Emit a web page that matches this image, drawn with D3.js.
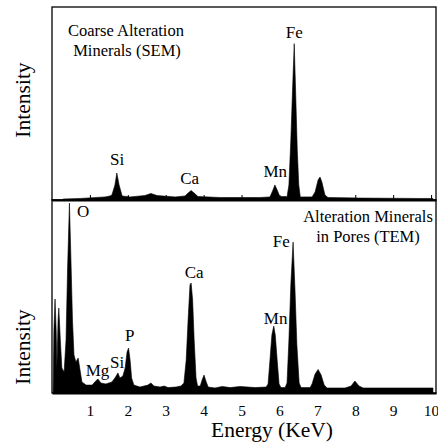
<!DOCTYPE html>
<html>

<head>
    <script src="https://d3js.org/d3.v7.min.js"></script>
    <meta charset="utf-8">
    <style>
        body { margin: 0; background: #fff; }
    </style>
</head>

<body>
    <div id="my_dataviz"></div>
    <script>
        // spectrum outlines (energy in keV, relative intensity 0-100)
        var semEnergy = [0.29, 0.74, 1.40, 1.53, 1.58, 1.66, 1.71, 1.77, 1.85, 2.06, 2.45, 2.61, 2.77, 3.25,
            3.51, 3.59, 3.67, 3.75, 3.85, 4.43, 5.49, 5.75, 5.83, 5.88, 5.94, 6.01, 6.17,
            6.20, 6.25, 6.30, 6.34, 6.39, 6.43, 6.47, 6.51, 6.55, 6.86,
            6.94, 7.02, 7.07, 7.12, 7.20, 7.28, 8.13, 9.71, 10.05];
        var semIntensity = [0.5, 0.8, 1.6, 2.1, 2.6, 7.8, 14, 7.8, 2.1, 1.6, 2.3, 3.4, 2.3, 1.6,
            2.1, 3.6, 4.9, 3.6, 1.8, 1.3, 1.3, 1.6, 5.2, 7.8, 5.2, 1.8, 1.8,
            1.6, 7.8, 31, 54, 81, 54, 26, 7.8, 1.6, 1.6,
            4.1, 10.4, 11.9, 9.3, 2.6, 1.3, 1.0, 0.8, 0.8];

        var temEnergy = [0.03, 0.05, 0.08, 0.11, 0.13, 0.16, 0.18, 0.22, 0.26, 0.32, 0.37, 0.41, 0.46,
            0.50, 0.54, 0.58, 0.63, 0.69, 0.74, 0.79, 0.90, 1.06, 1.13, 1.21, 1.29, 1.42, 1.58,
            1.66, 1.74, 1.79, 1.87, 1.93, 1.98, 2.02, 2.06, 2.10, 2.16, 2.32, 2.53, 2.61, 2.69,
            2.85, 2.96, 3.06, 3.27, 3.40, 3.48, 3.54, 3.59, 3.64, 3.67, 3.71, 3.75, 3.80, 3.84,
            3.91, 3.96, 4.01, 4.06, 4.12, 4.30, 4.49, 4.70, 4.96, 5.36, 5.65,
            5.70, 5.75, 5.80, 5.85, 5.89, 5.94, 5.99, 6.04, 6.15,
            6.20, 6.25, 6.30, 6.36, 6.41, 6.46, 6.52, 6.57, 6.81,
            6.86, 6.94, 7.02, 7.10, 7.18, 7.26, 7.73, 7.89, 7.99, 8.10, 8.21, 9.18, 10.05];
        var temIntensity = [0.5, 32.6, 48.7, 32.6, 13, 37.8, 44, 27.5, 13, 10.9, 27.5, 63.7, 98.4,
            68.9, 37.8, 19.7, 16.1, 18.1, 11.9, 5.7, 4.1, 4.1, 5.7, 7.3, 5.2, 4.7, 5.7,
            7.8, 10.4, 7.8, 8.8, 13, 21.2, 23.3, 17.1, 7.8, 4.1, 3.1, 4.1, 5.2, 3.6,
            3.1, 3.6, 2.8, 3.1, 3.6, 5.2, 17.1, 37.8, 56, 57, 48.2, 27.5, 7.8, 3.6,
            3.6, 6.7, 9.3, 6.2, 3.1, 2.6, 3.4, 2.8, 3.4, 2.8, 3.1,
            4.7, 17.1, 30, 34.7, 30, 17.1, 4.7, 2.8, 2.8,
            5.2, 27.5, 56, 78.2, 53.4, 24.9, 5.2, 2.8, 2.8,
            4.7, 9.8, 12.2, 9.3, 4.1, 2.6, 2.6, 3.6, 6.2, 3.6, 2.6, 2.6, 2.6];

        var tickValues = [1, 2, 3, 4, 5, 6, 7, 8, 9, 10];

        // peak labels: element, keV (centre), intensity at baseline of text
        var semLabels = [["Si", 1.72, 18], ["Ca", 3.63, 8.3], ["Mn", 5.89, 12], ["Fe", 6.39, 84]];
        var temLabels = [["O", 0.82, 91], ["Mg", 1.2, 8.8], ["Si", 1.72, 12.9], ["P", 2.05, 27],
            ["Ca", 3.75, 59.5], ["Mn", 5.9, 36], ["Fe", 6.05, 75.5]];

        var serif = "'Liberation Serif', 'Times New Roman', 'DejaVu Serif', serif";
        var width = 438;
        var height = 445;
        var left = 52, right = 436;

        var svg = d3.select("#my_dataviz")
            .append("svg")
            .attr("width", width)
            .attr("height", height)
            .style("font-family", serif);

        var x = d3.scaleLinear().domain([0, 10.13]).range([left, right]);

        function addText(tx, ty, size, str) {
            return svg.append("text")
                .attr("x", tx).attr("y", ty)
                .attr("text-anchor", "middle")
                .attr("font-family", serif)
                .style("font-family", serif)
                .style("font-size", size + "px")
                .attr("fill", "#000")
                .text(str);
        }

        function drawPanel(top, bottom, energy, intensity, labels) {
            var y = d3.scaleLinear().domain([0, 100]).range([bottom, top]);
            var pts = energy.map((e, i) => [e, intensity[i]]);

            var area = d3.area()
                .x(d => x(d[0]))
                .y0(y(0))
                .y1(d => y(d[1]));

            svg.append("path")
                .datum(pts)
                .attr("d", area)
                .attr("fill", "#000")
                .attr("stroke", "#000")
                .attr("stroke-width", 0.6);

            // frame
            svg.append("rect")
                .attr("x", left).attr("y", top)
                .attr("width", right - left).attr("height", bottom - top)
                .attr("fill", "none")
                .attr("stroke", "#000")
                .attr("stroke-width", 1.3);

            labels.forEach(function (d) {
                addText(x(d[1]), y(d[2]), 17, d[0]);
            });

            return y;
        }

        var yTop = drawPanel(7, 200, semEnergy, semIntensity, semLabels);
        var yBot = drawPanel(200, 393, temEnergy, temIntensity, temLabels);

        // inward ticks on both panels
        svg.append("g")
            .attr("transform", "translate(0,200)")
            .call(d3.axisBottom(x).tickValues(tickValues).tickSizeInner(-5).tickSizeOuter(0).tickFormat(""))
            .call(g => g.select(".domain").attr("stroke-width", 2));

        var xAxis = svg.append("g")
            .attr("transform", "translate(0,393)")
            .call(d3.axisBottom(x).tickValues(tickValues).tickSizeInner(-5).tickSizeOuter(0).tickPadding(12))
            .attr("font-family", serif);
        xAxis.select(".domain").attr("stroke-width", 2);
        xAxis.selectAll("text")
            .style("font-family", serif)
            .style("font-size", "15.5px");

        // panel captions
        addText(126, 36, 16.5, "Coarse Alteration");
        addText(127, 56, 16.5, "Minerals (SEM)");
        addText(368, 222, 16.5, "Alteration Minerals");
        addText(368, 242, 16.5, "in Pores (TEM)");

        // axis titles
        [100, 347].forEach(function (cy) {
            addText(0, 0, 21.5, "Intensity")
                .attr("transform", "translate(30," + cy + ") rotate(-90)");
        });

        addText(272, 437, 21.5, "Energy (KeV)");
    </script>
</body>

</html>
